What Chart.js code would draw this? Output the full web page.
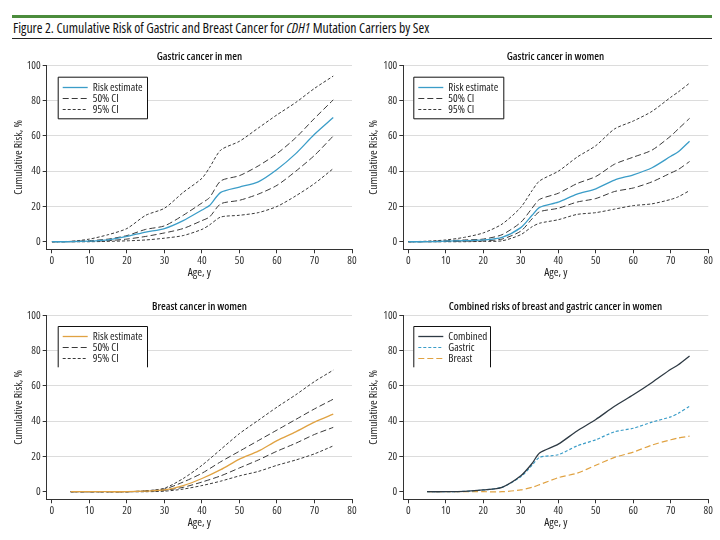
<!DOCTYPE html>
<html>
<head>
<meta charset="utf-8">
<script src="https://cdn.jsdelivr.net/npm/chart.js@4.4.1/dist/chart.umd.min.js"></script>
<style>
  body { margin: 0; background: #fff; }
  #page { position: relative; width: 720px; height: 540px; overflow: hidden;
          font-family: 'Open Sans', sans-serif; font-stretch: condensed; color: #111; }
  .greenbar { position: absolute; left: 12px; top: 15px; width: 700px; height: 3px; background: #4b8c3c; }
  .figtitle { position: absolute; left: 13px; top: 18px; font-size: 13.8px; font-weight: 500; white-space: nowrap; }
  .rule { position: absolute; left: 12px; top: 38px; width: 700px; height: 1px; background: #222; }
  .panel { position: absolute; width: 360px; height: 250px; }
  .ptitle { position: absolute; top: 8px; text-align: center; font-size: 10.9px; font-weight: 600; color: #111; white-space: nowrap; }
</style>
</head>
<body>
<div id="page">
  <div class="greenbar"></div>
  <div class="figtitle">Figure 2. Cumulative Risk of Gastric and Breast Cancer for <i>CDH1</i> Mutation Carriers by Sex</div>
  <div class="rule"></div>

  <div class="panel" style="left:0;top:40px">
    <div class="ptitle" style="left:47px;width:305px">Gastric cancer in men</div>
    <canvas id="menGastric"></canvas>
  </div>
  <div class="panel" style="left:360px;top:40px">
    <div class="ptitle" style="left:43px;width:305px">Gastric cancer in women</div>
    <canvas id="womenGastric"></canvas>
  </div>
  <div class="panel" style="left:0;top:290px">
    <div class="ptitle" style="left:47px;width:305px">Breast cancer in women</div>
    <canvas id="womenBreast"></canvas>
  </div>
  <div class="panel" style="left:360px;top:290px">
    <div class="ptitle" style="left:43px;width:305px">Combined risks of breast and gastric cancer in women</div>
    <canvas id="womenCombined"></canvas>
  </div>
</div>

<script>
// ---- data (cumulative risk, %) ----
const xTicks = [0, 10, 20, 30, 40, 50, 60, 70, 80];
const yTicks = [0, 20, 40, 60, 80, 100];

const agesMenGastric = [0, 5, 10, 15, 20, 25, 30, 35, 40, 42, 45, 50, 55, 60, 65, 70, 75];
const menGastricRisk = [0, 0, 0.3, 1, 3, 5.5, 7.5, 12, 18, 20.5, 28, 31, 34, 41, 50, 61, 70.5];
const menGastric50Hi = [0, 0.2, 0.6, 1.5, 3.5, 7, 9, 15, 22, 25, 34.5, 37.5, 43, 50, 59, 70, 80.5];
const menGastric50Lo = [0, 0, 0.2, 0.6, 1.5, 3, 5, 7.5, 12, 14, 21.5, 23.5, 27, 32, 40, 49, 60];
const menGastric95Hi = [0, 0.2, 1.5, 4, 7.5, 15, 19, 28, 36, 42, 52, 57, 64.5, 72, 79, 87, 94];
const menGastric95Lo = [0, 0, 0, 0.2, 0.5, 1, 2, 3.5, 7, 9.5, 14, 15, 16.5, 20, 26, 33, 41.5];

const agesWomenGastric = [0, 5, 10, 15, 20, 25, 30, 33, 35, 40, 45, 50, 55, 60, 65, 70, 72, 75];
const womenGastricRisk = [0, 0, 0.3, 0.6, 1, 2.5, 8, 15, 19.5, 22.5, 27, 30, 35, 38, 42, 48.5, 51, 57];
const womenGastric50Hi = [0, 0.1, 0.5, 1, 1.5, 4, 11, 19, 24, 27.5, 33, 37, 44, 48, 52, 60, 64, 70];
const womenGastric50Lo = [0, 0, 0.1, 0.3, 0.5, 1.5, 6, 13, 17, 19, 22.5, 24.5, 28.5, 30.5, 34, 39, 41, 45.5];
const womenGastric95Hi = [0, 0.3, 1, 2.5, 5, 10, 19.5, 29, 34.5, 40, 48, 54.5, 64, 68.5, 74, 82, 85, 90];
const womenGastric95Lo = [0, 0, 0, 0, 0.2, 0.5, 4, 8.5, 10.5, 12.5, 15.5, 16.5, 18.5, 20.5, 21.5, 24, 25.5, 29];

const agesBreast = [5, 10, 15, 20, 25, 30, 35, 40, 45, 50, 55, 60, 65, 70, 75];
const breastRisk = [0, 0, 0, 0, 0.3, 1, 3.5, 7.5, 12.5, 18.5, 23, 29, 34, 39.5, 44];
const breast50Hi = [0, 0, 0, 0, 0.5, 1.5, 5.5, 10.5, 17, 23, 29, 35, 41, 47, 52.5];
const breast50Lo = [0, 0, 0, 0, 0.2, 0.8, 2.5, 5.5, 9, 13.5, 18, 23, 27.5, 32.5, 36.5];
const breast95Hi = [0, 0, 0, 0, 0.5, 2, 7.5, 15, 24, 33, 40.5, 48, 55, 62.5, 69];
const breast95Lo = [0, 0, 0, 0, 0, 0.3, 1.5, 3.5, 6, 9, 11.5, 15, 18, 21.5, 26];

const agesCombined = [5, 10, 15, 20, 25, 30, 33, 35, 40, 45, 50, 55, 60, 65, 70, 72, 75];
const combinedRisk = [0, 0, 0.2, 1, 2.5, 9, 16, 22, 27, 34.5, 41, 48.5, 55, 62, 69.5, 72, 77];
const combinedGastric = [0, 0, 0.2, 1, 2.5, 8.5, 15, 19.5, 21, 26, 29.5, 34, 36, 39.5, 42.5, 44.5, 48.5];
const combinedBreast = [0, 0, 0, 0, 0, 1, 2.5, 4, 8, 10.5, 15, 19.5, 22.5, 26.5, 29.5, 30.5, 31.5];

// ---- styling ----
const FONT = "'Open Sans', sans-serif";
const STRETCH = 'condensed';   // goes into the canvas font shorthand
const BLUE = '#3b9dc8';
const ORANGE = '#e0a242';
const DARK = '#3a3a3a';
const LONG_DASH = [6, 3];
const SHORT_DASH = [3, 2];

Chart.defaults.font.family = FONT;
Chart.defaults.font.size = 11;
Chart.defaults.font.weight = STRETCH;
Chart.defaults.color = '#333';

function pts(xs, ys) {
  return xs.map(function (x, i) { return { x: x, y: ys[i] }; });
}

function line(label, xs, ys, color, dash, width) {
  return {
    label: label,
    data: pts(xs, ys),
    borderColor: color,
    borderDash: dash || [],
    borderWidth: width || 1,
    pointRadius: 0,
    fill: false,
    tension: 0.25,
  };
}

// legend drawn as a framed box inside the plot, like the original figure
const boxLegend = {
  id: 'boxLegend',
  beforeDatasetsDraw: function (chart, args, opts) {
    if (!opts || !opts.items) return;
    const ctx = chart.ctx;
    const x = opts.x, y = opts.y, w = opts.w, h = opts.h;
    ctx.save();
    ctx.fillStyle = '#fff';
    ctx.fillRect(x, y, w, h);
    ctx.strokeStyle = '#111';
    ctx.lineWidth = 1;
    ctx.setLineDash([]);
    ctx.beginPath();
    if (opts.open) {
      ctx.moveTo(x + 0.5, y + h);
      ctx.lineTo(x + 0.5, y + 0.5);
      ctx.lineTo(x + w + 0.5, y + 0.5);
      ctx.lineTo(x + w + 0.5, y + h);
    } else {
      ctx.rect(x + 0.5, y + 0.5, w, h);
    }
    ctx.stroke();
    opts.items.forEach(function (idx, i) {
      const ds = chart.data.datasets[idx];
      const ly = Math.round(y + 10 + i * 11) + 0.5;
      ctx.strokeStyle = ds.borderColor;
      ctx.lineWidth = ds.borderWidth;
      ctx.setLineDash(ds.borderDash || []);
      ctx.beginPath();
      ctx.moveTo(x + 5, ly);
      ctx.lineTo(x + 30, ly);
      ctx.stroke();
      ctx.fillStyle = '#222';
      ctx.font = STRETCH + ' 11px ' + FONT;
      ctx.textBaseline = 'middle';
      ctx.fillText(ds.label, x + 35, ly);
    });
    ctx.restore();
  },
};

function makeChart(canvasId, geom, datasets, legend) {
  const canvas = document.getElementById(canvasId);
  return new Chart(canvas, {
    type: 'line',
    data: { datasets: datasets },
    plugins: [boxLegend],
    options: {
      responsive: true,
      maintainAspectRatio: false,
      animation: false,
      layout: { padding: { top: 25.5, right: geom.padRight, bottom: 5, left: 0 } },
      plugins: {
        legend: { display: false },
        tooltip: { enabled: false },
        boxLegend: legend,
      },
      scales: {
        x: {
          type: 'linear',
          min: geom.xMin,
          max: 80,
          afterBuildTicks: function (s) { s.ticks = xTicks.map(function (v) { return { value: v }; }); },
          afterFit: function (s) { s.height = 35.7; },
          ticks: { color: '#333', padding: 1, maxRotation: 0, font: { size: 11, weight: STRETCH } },
          grid: { drawOnChartArea: false, drawTicks: true, tickLength: 4, color: '#333' },
          border: { color: '#333', width: 1 },
          title: { display: true, text: 'Age, y', color: '#222', font: { size: 11.5, weight: STRETCH }, padding: { top: 0, bottom: 5 } },
        },
        y: {
          min: -4.3,
          max: 100,
          afterBuildTicks: function (s) { s.ticks = yTicks.map(function (v) { return { value: v }; }); },
          afterFit: function (s) { s.width = geom.axisLeft; },
          ticks: { color: '#333', padding: 2, font: { size: 11, weight: STRETCH } },
          grid: {
            color: function (c) { return (c.tick && c.tick.value === 0) ? 'rgba(0,0,0,0)' : '#dcdcdc'; },
            tickColor: '#333',
            tickLength: 4,
          },
          border: { color: '#333', width: 1 },
          title: { display: true, text: 'Cumulative Risk, %', color: '#222', font: { size: 11.5, weight: STRETCH }, padding: { top: geom.titlePad, bottom: 0 } },
        },
      },
    },
  });
}

const leftGeom = { axisLeft: 46.7, padRight: 8, xMin: -1.4, titlePad: 12 };
const rightGeom = { axisLeft: 43.3, padRight: 11.7, xMin: -1.33, titlePad: 7 };

makeChart('menGastric', leftGeom, [
  line('Risk estimate', agesMenGastric, menGastricRisk, BLUE, null, 1.3),
  line('50% CI', agesMenGastric, menGastric50Hi, DARK, LONG_DASH),
  line('50% CI', agesMenGastric, menGastric50Lo, DARK, LONG_DASH),
  line('95% CI', agesMenGastric, menGastric95Hi, DARK, SHORT_DASH),
  line('95% CI', agesMenGastric, menGastric95Lo, DARK, SHORT_DASH),
], { x: 57.7, y: 36.7, w: 89.3, h: 41.6, items: [0, 1, 3] });

makeChart('womenGastric', rightGeom, [
  line('Risk estimate', agesWomenGastric, womenGastricRisk, BLUE, null, 1.3),
  line('50% CI', agesWomenGastric, womenGastric50Hi, DARK, LONG_DASH),
  line('50% CI', agesWomenGastric, womenGastric50Lo, DARK, LONG_DASH),
  line('95% CI', agesWomenGastric, womenGastric95Hi, DARK, SHORT_DASH),
  line('95% CI', agesWomenGastric, womenGastric95Lo, DARK, SHORT_DASH),
], { x: 53.3, y: 36.7, w: 90, h: 41.6, items: [0, 1, 3] });

makeChart('womenBreast', leftGeom, [
  line('Risk estimate', agesBreast, breastRisk, ORANGE, null, 1.3),
  line('50% CI', agesBreast, breast50Hi, DARK, LONG_DASH),
  line('50% CI', agesBreast, breast50Lo, DARK, LONG_DASH),
  line('95% CI', agesBreast, breast95Hi, DARK, SHORT_DASH),
  line('95% CI', agesBreast, breast95Lo, DARK, SHORT_DASH),
], { x: 57.7, y: 36, w: 89.3, h: 41.3, open: true, items: [0, 1, 3] });

makeChart('womenCombined', rightGeom, [
  line('Combined', agesCombined, combinedRisk, '#2e3a44', null, 1.3),
  line('Gastric', agesCombined, combinedGastric, BLUE, SHORT_DASH, 1.2),
  line('Breast', agesCombined, combinedBreast, ORANGE, LONG_DASH, 1.2),
], { x: 53.3, y: 36, w: 76.7, h: 41.3, open: true, items: [0, 1, 2] });
</script>
</body>
</html>
